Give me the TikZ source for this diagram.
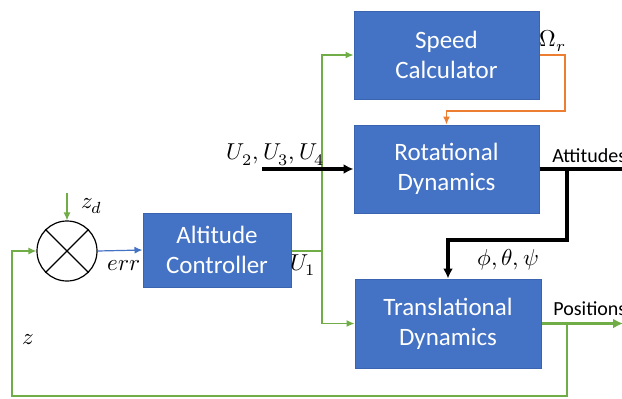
\documentclass[tikz,border=0pt]{standalone}
\usepackage{fontspec}
\setmainfont{Carlito}
\usepackage{unicode-math}
\usetikzlibrary{arrows.meta}
\definecolor{boxblue}{HTML}{4472C4}
\definecolor{boxedge}{HTML}{3A64B0}
\definecolor{sigg}{HTML}{70AD47}
\definecolor{sigo}{HTML}{ED7D31}
\tikzset{
  blk/.style={rectangle, fill=boxblue, draw=boxedge, line width=0.5pt, text=white, align=center, font=\fontsize{12.5}{15}\selectfont, inner sep=0pt},
  thin/.style={line width=0.6pt, -{Latex[length=4pt,width=3.5pt]}},
  thick/.style={line width=1.6pt, -{Latex[length=5pt,width=5pt]}},
  lab/.style={font=\fontsize{11.5}{13}\selectfont, inner sep=0pt},
  tlab/.style={font=\fontsize{10}{12}\selectfont, inner sep=0pt, anchor=west},
}
\begin{document}
\begin{tikzpicture}[x=0.5pt,y=-0.5pt]
\useasboundingbox (0,0) rectangle (622,398);
\clip (0,0) rectangle (622,398);
\node[blk, minimum width=92.5pt, minimum height=44pt] (speed) at (446.5,55) {Speed\\Calculator};
\node[blk, minimum width=92.5pt, minimum height=44pt] (rot) at (446.5,169) {Rotational\\Dynamics};
\node[blk, minimum width=93pt, minimum height=44.5pt] (trans) at (448,323.5) {Translational\\Dynamics};
\node[blk, minimum width=74pt, minimum height=37pt] (alt) at (217,250) {Altitude\\Controller};
\node[circle, draw=black, line width=0.6pt, minimum size=30pt, inner sep=0pt] (sum) at (67,251) {};
\draw[line width=0.6pt] (sum.45) -- (sum.225) (sum.135) -- (sum.315);
% coordinates
\coordinate (zd) at (67,193);
\coordinate (j1) at (322,251);
\coordinate (uin) at (262,169);
\coordinate (om1) at (565,55);
\coordinate (om2) at (565,111);
\coordinate (att) at (640,169);
\coordinate (jb) at (567,169);
\coordinate (jb2) at (567,240);
\coordinate (pos) at (623,323.5);
\coordinate (jp) at (567,323.5);
\coordinate (fb1) at (567,396);
\coordinate (fb2) at (12,396);
% connectors
\draw[thin, draw=sigg] (zd) -- (sum.north);
\draw[thin, draw=boxblue] (sum.east) -- (alt.west);
\draw[line width=0.6pt, draw=sigg] (alt.east |- j1) -- (j1);
\draw[thin, draw=sigg] (j1) |- (speed.west);
\draw[thin, draw=sigg] (j1) |- (trans.west);
\draw[thick] (uin) -- (rot.west);
\draw[thin, draw=sigo] (speed.east) -- (om1) -- (om2) -| (rot.north);
\draw[line width=1.6pt] (rot.east) -- (att);
\draw[thick] (jb) -- (jb2) -| (trans.north);
\draw[thick, draw=sigg] (trans.east) -- (pos);
\draw[thin, draw=sigg] (jp) -- (fb1) -- (fb2) |- (sum.west);
% labels
\node[lab] (lzd) at (92,206) {$z_d$};
\node[lab] (lerr) at (124,266) {$err$};
\node[lab] (lu1) at (303,265) {$U_1$};
\node[lab] (lu2) at (276,155) {$U_2,U_3,U_4$};
\node[lab] (lom) at (553,41) {$\Omega_r$};
\node[lab] (lphi) at (508,260) {$\phi,\theta,\psi$};
\node[lab] (lz) at (28,340) {$z$};
\node[tlab] (latt) at (552,156) {Attitudes};
\node[tlab] (lpos) at (553,309) {Positions};
\end{tikzpicture}
\end{document}
